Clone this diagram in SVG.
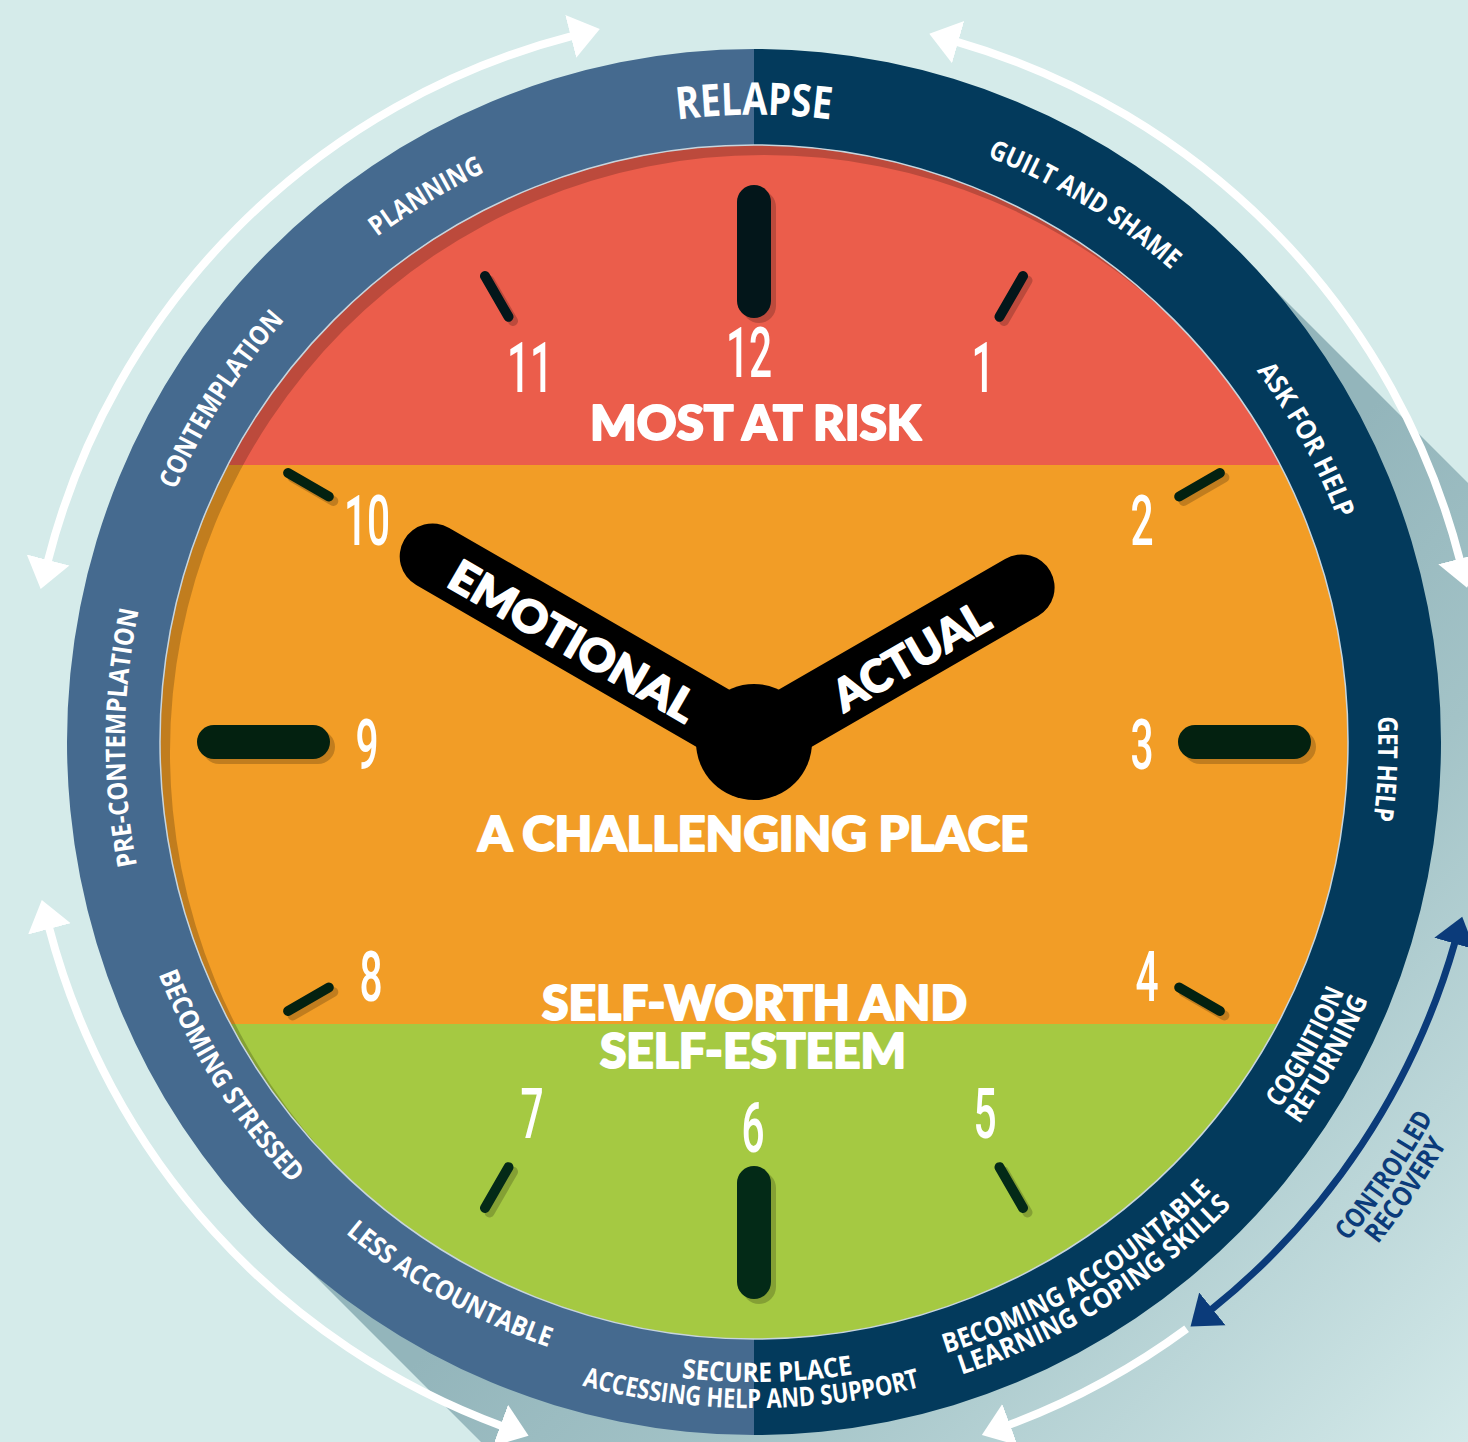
<svg xmlns="http://www.w3.org/2000/svg" width="1468" height="1442" viewBox="0 0 1468 1442">
<defs>
<style>
.rl{font-family:"Open Sans","Liberation Sans",sans-serif;font-weight:700;font-size:27px;fill:#fff;text-anchor:middle}
.rlb{font-family:"Open Sans","Liberation Sans",sans-serif;font-weight:700;font-size:27px;fill:#0b3b7a;text-anchor:middle}
.num{font-family:Roboto,"Liberation Sans",sans-serif;font-weight:500;font-size:70px;fill:#fff;text-anchor:middle}
.zone{font-family:Lato,"Liberation Sans",sans-serif;font-weight:900;font-size:47px;fill:#fff;stroke:#fff;stroke-width:2;stroke-linejoin:round;text-anchor:middle}
.hl{font-family:Lato,"Liberation Sans",sans-serif;font-weight:900;font-size:44px;fill:#fff;stroke:#fff;stroke-width:1.8;stroke-linejoin:round;text-anchor:middle}
.tM{stroke-width:34;stroke-linecap:round;fill:none}
.tm{stroke-width:10;stroke-linecap:round;fill:none}
.sh{stroke:#000;stroke-opacity:0.2}
.tr{stroke:#03161a}
.to{stroke:#032110}
.tg{stroke:#032a17}
.arcW{fill:none;stroke:#fff;stroke-width:8}
.arcB{fill:none;stroke:#0b3b7a;stroke-width:7}
</style>
<linearGradient id="shadowGrad" gradientUnits="userSpaceOnUse" x1="894" y1="883" x2="1460" y2="1449">
<stop offset="0" stop-color="#93b5bb"/>
<stop offset="0.35" stop-color="#a3c3c7"/>
<stop offset="1" stop-color="#d3e9e9"/>
</linearGradient>
<clipPath id="faceClip"><ellipse cx="754" cy="742" rx="594" ry="597"/></clipPath>
<marker id="ahW" viewBox="0 -24 32 48" refX="2" refY="0" markerWidth="32" markerHeight="48" markerUnits="userSpaceOnUse" orient="auto-start-reverse"><path d="M0,-22 L30,0 L0,22 Z" fill="#fff"/></marker>
<marker id="ahB" viewBox="0 -24 32 48" refX="2" refY="0" markerWidth="32" markerHeight="48" markerUnits="userSpaceOnUse" orient="auto-start-reverse"><path d="M0,-21 L28,0 L0,21 Z" fill="#0b3b7a"/></marker>
<path id="p-relapse" d="M136.5,633.1 A627,627 0 0 1 1371.5,633.1"/>
<path id="p-planning" d="M165.8,967.8 A630,630 0 0 1 1229.5,328.7"/>
<path id="p-contemp" d="M325.7,1205.4 A631,631 0 0 1 998.0,160.1"/>
<path id="p-precontemp" d="M640.5,1360.7 A629,629 0 0 1 649.1,121.8"/>
<path id="p-guilt" d="M217.4,411.9 A630,630 0 0 1 1290.6,1072.1"/>
<path id="p-ask" d="M451.5,189.4 A630,630 0 0 1 1056.5,1294.6"/>
<path id="p-gethelp" d="M780.9,112.6 A630,630 0 0 1 727.1,1371.4"/>
<path id="p-stressed" d="M322.3,270.9 A639,639 0 0 0 998.5,1332.4"/>
<path id="p-less" d="M150.7,531.3 A639,639 0 0 0 1248.8,1146.3"/>
<path id="p-secure" d="M126.2,866.3 A640,640 0 0 0 1386.5,839.9"/>
<path id="p-accessing" d="M97.6,854.8 A666,666 0 0 0 1409.4,860.5"/>
<path id="p-becacc" d="M273.9,1166.7 A641,641 0 0 0 1350.4,507.1"/>
<path id="p-learning" d="M259.1,1187.6 A666,666 0 0 0 1371.5,492.5"/>
<path id="p-cognition" d="M546.4,1348.4 A641,641 0 0 0 1156.5,243.1"/>
<path id="p-returning" d="M538.3,1372.1 A666,666 0 0 0 1172.2,223.7"/>
<path id="p-controlled" d="M432.2,1448.1 A776,776 0 0 0 1297.9,188.5"/>
<path id="p-recovery" d="M421.8,1470.9 A801,801 0 0 0 1315.4,170.7"/>
</defs>

<rect id="background" x="0" y="0" width="1468" height="1442" fill="#d5ebea"/>
<polygon id="long-shadow" points="1240.5,255.5 2740.5,1755.5 1767.5,2728.5 267.5,1228.5" fill="url(#shadowGrad)"/>

<g id="ring">
<path d="M754,49 A687,693 0 0 0 754,1435 L754,1339 A594,597 0 0 1 754,145 Z" fill="#456a8f"/>
<path d="M754,49 A687,693 0 0 1 754,1435 L754,1339 A594,597 0 0 0 754,145 Z" fill="#033a5c"/>
</g>

<g id="face">
<g clip-path="url(#faceClip)">
<rect x="150" y="140" width="1210" height="325" fill="#eb5d4b"/>
<rect x="150" y="465" width="1210" height="559" fill="#f29d26"/>
<rect x="150" y="1024" width="1210" height="320" fill="#a5c942"/>
<path d="M140,130 H1370 V1350 H140 Z M170,752 a594,597 0 1 0 1188,0 a594,597 0 1 0 -1188,0 Z" fill="#000" fill-opacity="0.2" fill-rule="evenodd"/>
</g>
<ellipse cx="754" cy="742" rx="594" ry="597" fill="none" stroke="#c8d5dd" stroke-width="1.5"/>
</g>

<g id="ticks">
<g class="sh">
<line class="tM" x1="759" y1="306" x2="759" y2="207"/>
<line class="tM" x1="1200" y1="747" x2="1299" y2="747"/>
<line class="tM" x1="759" y1="1188" x2="759" y2="1287"/>
<line class="tM" x1="318" y1="747" x2="219" y2="747"/>
<line class="tm" x1="1004" y1="321" x2="1027.5" y2="280.5"/>
<line class="tm" x1="1183.7" y1="501" x2="1224.4" y2="477.5"/>
<line class="tm" x1="1183.7" y1="992" x2="1224.4" y2="1015.5"/>
<line class="tm" x1="1004" y1="1171.7" x2="1027.5" y2="1212.4"/>
<line class="tm" x1="513" y1="1171.7" x2="489.5" y2="1212.4"/>
<line class="tm" x1="333.3" y1="992" x2="292.6" y2="1015.5"/>
<line class="tm" x1="333.3" y1="501" x2="292.6" y2="477.5"/>
<line class="tm" x1="513" y1="321" x2="489.5" y2="280.5"/>
</g>
<line class="tM tr" x1="754" y1="301" x2="754" y2="202"/>
<line class="tM to" x1="1195" y1="742" x2="1294" y2="742"/>
<line class="tM tg" x1="754" y1="1183" x2="754" y2="1282"/>
<line class="tM to" x1="313" y1="742" x2="214" y2="742"/>
<line class="tm tr" x1="999.5" y1="316.8" x2="1023" y2="276.1"/>
<line class="tm to" x1="1179.2" y1="496.5" x2="1219.9" y2="473"/>
<line class="tm to" x1="1179.2" y1="987.5" x2="1219.9" y2="1011"/>
<line class="tm tg" x1="999.5" y1="1167.2" x2="1023" y2="1207.9"/>
<line class="tm tg" x1="508.5" y1="1167.2" x2="485" y2="1207.9"/>
<line class="tm to" x1="328.8" y1="987.5" x2="288.1" y2="1011"/>
<line class="tm to" x1="328.8" y1="496.5" x2="288.1" y2="473"/>
<line class="tm tr" x1="508.5" y1="316.8" x2="485" y2="276.1"/>
</g>

<g id="numbers">
<text class="num" transform="translate(749,377) scale(0.58,1)">12</text>
<text class="num" transform="translate(983,392) scale(0.58,1)">1</text>
<text class="num" transform="translate(530,392) scale(0.58,1)">11</text>
<text class="num" transform="translate(1142,545) scale(0.58,1)">2</text>
<text class="num" transform="translate(367,545) scale(0.58,1)">10</text>
<text class="num" transform="translate(1142,769) scale(0.58,1)">3</text>
<text class="num" transform="translate(367,769) scale(0.58,1)">9</text>
<text class="num" transform="translate(1147,1001) scale(0.58,1)">4</text>
<text class="num" transform="translate(371,1001) scale(0.58,1)">8</text>
<text class="num" transform="translate(985,1138) scale(0.58,1)">5</text>
<text class="num" transform="translate(532,1138) scale(0.58,1)">7</text>
<text class="num" transform="translate(753,1152) scale(0.58,1)">6</text>
</g>

<g id="zone-most-at-risk"><text class="zone" x="755.5" y="440" textLength="331" lengthAdjust="spacingAndGlyphs">MOST AT RISK</text></g>
<g id="zone-challenging"><text class="zone" x="753" y="851" textLength="550" lengthAdjust="spacingAndGlyphs">A CHALLENGING PLACE</text></g>
<g id="zone-self-worth">
<text class="zone" x="754.5" y="1020" textLength="425" lengthAdjust="spacingAndGlyphs">SELF-WORTH AND</text>
<text class="zone" x="753" y="1068" textLength="306" lengthAdjust="spacingAndGlyphs">SELF-ESTEEM</text>
</g>

<g id="ring-labels">
<g id="lbl-relapse"><text class="rl" style="font-size:45px"><textPath href="#p-relapse" startOffset="50%" textLength="154" lengthAdjust="spacingAndGlyphs">RELAPSE</textPath></text></g>
<g id="lbl-planning"><text class="rl"><textPath href="#p-planning" startOffset="50%" textLength="126" lengthAdjust="spacingAndGlyphs">PLANNING</textPath></text></g>
<g id="lbl-contemplation"><text class="rl"><textPath href="#p-contemp" startOffset="50%" textLength="203" lengthAdjust="spacingAndGlyphs">CONTEMPLATION</textPath></text></g>
<g id="lbl-precontemplation"><text class="rl"><textPath href="#p-precontemp" startOffset="50%" textLength="257" lengthAdjust="spacingAndGlyphs">PRE-CONTEMPLATION</textPath></text></g>
<g id="lbl-guilt"><text class="rl"><textPath href="#p-guilt" startOffset="50%" textLength="217" lengthAdjust="spacingAndGlyphs">GUILT AND SHAME</textPath></text></g>
<g id="lbl-ask"><text class="rl"><textPath href="#p-ask" startOffset="50%" textLength="170" lengthAdjust="spacingAndGlyphs">ASK FOR HELP</textPath></text></g>
<g id="lbl-gethelp"><text class="rl"><textPath href="#p-gethelp" startOffset="50%" textLength="104" lengthAdjust="spacingAndGlyphs">GET HELP</textPath></text></g>
<g id="lbl-stressed"><text class="rl"><textPath href="#p-stressed" startOffset="50%" textLength="250" lengthAdjust="spacingAndGlyphs">BECOMING STRESSED</textPath></text></g>
<g id="lbl-less"><text class="rl"><textPath href="#p-less" startOffset="50%" textLength="234" lengthAdjust="spacingAndGlyphs">LESS ACCOUNTABLE</textPath></text></g>
<g id="lbl-secure">
<text class="rl"><textPath href="#p-secure" startOffset="50%" textLength="172" lengthAdjust="spacingAndGlyphs">SECURE PLACE</textPath></text>
<text class="rl"><textPath href="#p-accessing" startOffset="50%" textLength="342" lengthAdjust="spacingAndGlyphs">ACCESSING HELP AND SUPPORT</textPath></text>
</g>
<g id="lbl-accountable">
<text class="rl"><textPath href="#p-becacc" startOffset="50%" textLength="315" lengthAdjust="spacingAndGlyphs">BECOMING ACCOUNTABLE</textPath></text>
<text class="rl"><textPath href="#p-learning" startOffset="50%" textLength="322" lengthAdjust="spacingAndGlyphs">LEARNING COPING SKILLS</textPath></text>
</g>
<g id="lbl-cognition">
<text class="rl"><textPath href="#p-cognition" startOffset="50%" textLength="134" lengthAdjust="spacingAndGlyphs">COGNITION</textPath></text>
<text class="rl"><textPath href="#p-returning" startOffset="50%" textLength="143" lengthAdjust="spacingAndGlyphs">RETURNING</textPath></text>
</g>
<g id="lbl-controlled">
<text class="rlb"><textPath href="#p-controlled" startOffset="50%" textLength="151" lengthAdjust="spacingAndGlyphs">CONTROLLED</textPath></text>
<text class="rlb"><textPath href="#p-recovery" startOffset="50%" textLength="122" lengthAdjust="spacingAndGlyphs">RECOVERY</textPath></text>
</g>
</g>

<g id="connectors">
<path class="arcW" d="M47.6,561.9 A729,729 0 0 1 572.7,35.9" marker-start="url(#ahW)" marker-end="url(#ahW)"/>
<path class="arcW" d="M956.2,41.6 A729,729 0 0 1 1460.1,560.7" marker-start="url(#ahW)" marker-end="url(#ahW)"/>
<path class="arcW" d="M502.3,1426.2 A729,729 0 0 1 48.9,927.0" marker-start="url(#ahW)" marker-end="url(#ahW)"/>
<path class="arcW" d="M1186.6,1328.8 A729,729 0 0 1 1008.1,1425.3" marker-end="url(#ahW)"/>
<path class="arcB" d="M1455.1,941.7 A729,729 0 0 1 1210.8,1310.1" marker-start="url(#ahB)" marker-end="url(#ahB)"/>
</g>

<g id="hands">
<line x1="754" y1="742" x2="432.7" y2="556.5" stroke="#000" stroke-width="66" stroke-linecap="round"/>
<line x1="754" y1="742" x2="1021.6" y2="587.5" stroke="#000" stroke-width="66" stroke-linecap="round"/>
<circle cx="754" cy="742" r="58" fill="#000"/>
<text class="hl" transform="translate(573,641) rotate(30)" x="0" y="16" textLength="277" lengthAdjust="spacingAndGlyphs">EMOTIONAL</text>
<text class="hl" transform="translate(911,656) rotate(-30)" x="0" y="16" textLength="173" lengthAdjust="spacingAndGlyphs">ACTUAL</text>
</g>
</svg>
